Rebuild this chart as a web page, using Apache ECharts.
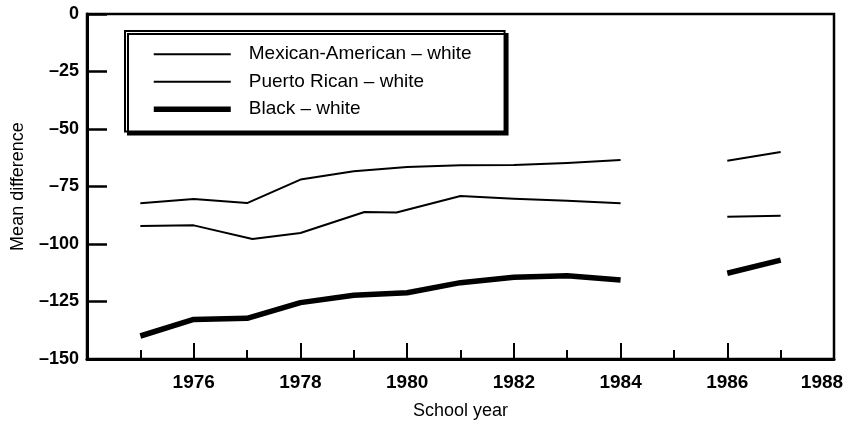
<!DOCTYPE html>
<html>
<head>
<meta charset="utf-8">
<script src="https://cdn.jsdelivr.net/npm/echarts@6/dist/echarts.min.js"></script>
<style>
html,body{margin:0;padding:0;background:#fff;}
#chart{width:848px;height:430px;}
</style>
</head>
<body>
<div id="chart"></div>
<script>
// Series names
const seriesNames = ['Mexican-American \u2013 white', 'Puerto Rican \u2013 white', 'Black \u2013 white'];

// Values: [school year, mean difference]
const mexicanAmerican = [[1975,-82.3],[1976,-80.4],[1977,-82.2],[1978,-72.0],[1979,-68.4],[1980,-66.5],[1981,-65.8],[1982,-65.7],[1983,-64.8],[1984,-63.5]];
const mexicanAmericanLate = [[1986,-63.8],[1987,-60.0]];
const puertoRican = [[1975,-92.2],[1976,-91.9],[1977.1,-97.8],[1978,-95.2],[1979.2,-86.1],[1979.8,-86.3],[1981,-79.1],[1982,-80.3],[1983,-81.2],[1984,-82.3]];
const puertoRicanLate = [[1986,-88.1],[1987,-87.7]];
const blackWhite = [[1975,-140.0],[1976,-132.8],[1977,-132.3],[1978,-125.5],[1979,-122.3],[1980,-121.2],[1981,-116.8],[1982,-114.5],[1983,-113.8],[1984,-115.7]];
const blackWhiteLate = [[1986,-112.7],[1987,-107.0]];

// Axis ranges / ticks
const xMin = 1974, xMax = 1988, xInterval = 2;
const yMin = -150, yMax = 0, yInterval = 25;

const FONT = 'Liberation Sans';
const THIN = 2, BOLD = 5.5;
const chart = echarts.init(document.getElementById('chart'));

function lineSeries(name, data, width) {
  return {
    name: name, type: 'line', data: data, symbol: 'none', smooth: false,
    lineStyle: {color: '#000', width: width, cap: 'butt', join: 'round'},
    itemStyle: {color: '#000'},
    emphasis: {disabled: true}, animation: false
  };
}

chart.setOption({
  animation: false,
  backgroundColor: '#fff',
  grid: {left: 87, right: 14, top: 14, bottom: 71, show: true, borderColor: '#000', borderWidth: 2.5, backgroundColor: 'transparent'},
  legend: {
    orient: 'vertical', left: 125, top: 31,
    data: [
      {name: seriesNames[0], lineStyle: {width: THIN, color: '#000'}, itemStyle: {opacity: 0}},
      {name: seriesNames[1], lineStyle: {width: THIN, color: '#000'}, itemStyle: {opacity: 0}},
      {name: seriesNames[2], lineStyle: {width: BOLD, color: '#000'}, itemStyle: {opacity: 0}}
    ],
    itemWidth: 77, itemHeight: 14, itemGap: 5,
    padding: [12, 33, 11, 26],
    backgroundColor: '#fff', borderColor: '#000', borderWidth: 2,
    shadowColor: '#000', shadowBlur: 0, shadowOffsetX: 3, shadowOffsetY: 3,
    selectedMode: false,
    textStyle: {fontFamily: FONT, fontSize: 19, lineHeight: 22.5, color: '#000', padding: [0, 0, 0, 13]}
  },
  xAxis: {
    type: 'value', min: xMin, max: xMax, interval: xInterval,
    name: 'School year', nameLocation: 'middle', nameGap: 43,
    nameTextStyle: {fontFamily: FONT, fontSize: 18, color: '#000'},
    axisLine: {show: true, onZero: false, lineStyle: {color: '#000', width: 3}},
    axisTick: {show: true, inside: true, length: 16, lineStyle: {color: '#000', width: 2}},
    minorTick: {show: true, splitNumber: 2, length: 9, lineStyle: {color: '#000', width: 2}},
    splitLine: {show: false},
    axisLabel: {fontFamily: FONT, fontSize: 19, fontWeight: 'bold', color: '#000', margin: 14,
      formatter: v => (v === xMin ? '' : (v === xMax ? '{last|' + v + '}' : String(v))),
      rich: {last: {fontFamily: FONT, fontSize: 19, fontWeight: 'bold', color: '#000', padding: [0, 24, 0, 0]}}}
  },
  yAxis: {
    type: 'value', min: yMin, max: yMax, interval: yInterval,
    name: 'Mean difference', nameLocation: 'middle', nameGap: 60, nameRotate: 90,
    nameTextStyle: {fontFamily: FONT, fontSize: 18, color: '#000'},
    axisLine: {show: true, onZero: false, lineStyle: {color: '#000', width: 3}},
    axisTick: {show: true, inside: true, length: 20, lineStyle: {color: '#000', width: 2.5}},
    splitLine: {show: false},
    axisLabel: {fontFamily: FONT, fontSize: 18, fontWeight: 'bold', color: '#000', margin: 8,
      formatter: v => String(v).replace('-', '\u2013')}
  },
  series: [
    lineSeries(seriesNames[0], mexicanAmerican, THIN),
    lineSeries(seriesNames[1], puertoRican, THIN),
    lineSeries(seriesNames[2], blackWhite, BOLD),
    lineSeries(seriesNames[0], mexicanAmericanLate, THIN),
    lineSeries(seriesNames[1], puertoRicanLate, THIN),
    lineSeries(seriesNames[2], blackWhiteLate, BOLD)
  ]
});
</script>
</body>
</html>
